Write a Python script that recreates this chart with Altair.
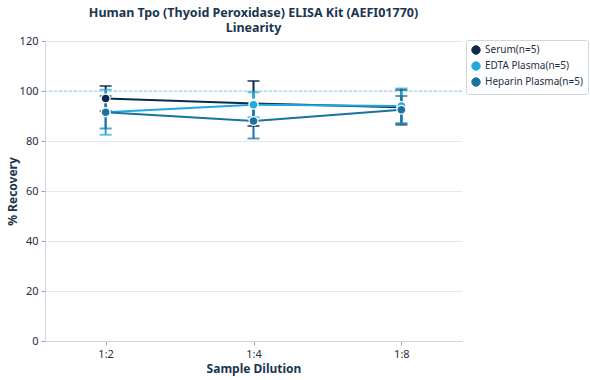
import altair as alt
import pandas as pd

# Recovery (%) per dilution with standard deviation, n=5 per matrix
dilutions = ["1:2", "1:4", "1:8"]
series = ["Serum(n=5)", "EDTA Plasma(n=5)", "Heparin Plasma(n=5)"]
serum_mean = [97.0, 95.0, 93.5]
serum_sd = [5.0, 9.0, 7.0]
edta_mean = [91.5, 94.5, 94.0]
edta_sd = [9.0, 5.0, 7.0]
heparin_mean = [91.5, 88.0, 92.5]
heparin_sd = [6.5, 7.0, 5.5]
colors = ["#0b2a48", "#22a9dc", "#17739f"]

rows = []
for name, means, sds in zip(series, [serum_mean, edta_mean, heparin_mean],
                            [serum_sd, edta_sd, heparin_sd]):
    for d, m, s in zip(dilutions, means, sds):
        rows.append({"series": name, "dilution": d, "mean": m, "sd": s,
                     "lo": m - s, "hi": m + s})
df = pd.DataFrame(rows)

x = alt.X("dilution:N", sort=dilutions, title="Sample Dilution",
          scale=alt.Scale(type="point", padding=0.41),
          axis=alt.Axis(labelAngle=0, grid=False))
color = alt.Color("series:N", sort=series,
                  scale=alt.Scale(domain=series, range=colors),
                  legend=alt.Legend(title=None, orient="none", legendX=421, legendY=-1,
                                    symbolType="circle", symbolSize=70,
                                    symbolOpacity=1,
                                    symbolStrokeColor="white", symbolStrokeWidth=1,
                                    labelFontSize=10, labelColor="#1d2f44",
                                    strokeColor="#cfd6dc", padding=5,
                                    cornerRadius=2, rowPadding=2, fillColor="white"))
yscale = alt.Scale(domain=[0, 120])

base = alt.Chart(df)

ref = alt.Chart(pd.DataFrame({"v": [100]})).mark_rule(
    color="#8fd2ea", strokeDash=[3, 2], strokeWidth=1
).encode(y=alt.Y("v:Q", scale=yscale))

err = base.mark_rule(strokeWidth=2).encode(
    x=x, y=alt.Y("lo:Q", scale=yscale), y2="hi:Q", color=color)
cap_lo = base.mark_tick(orient="horizontal", size=12, thickness=2).encode(
    x=x, y=alt.Y("lo:Q", scale=yscale), color=color)
cap_hi = base.mark_tick(orient="horizontal", size=12, thickness=2).encode(
    x=x, y=alt.Y("hi:Q", scale=yscale), color=color)

line = base.mark_line(strokeWidth=2).encode(
    x=x,
    y=alt.Y("mean:Q", scale=yscale, title="% Recovery",
            axis=alt.Axis(values=[0, 20, 40, 60, 80, 100, 120])),
    color=color)
pts = base.mark_point(filled=True, size=80, opacity=1, stroke="white",
                      strokeWidth=1.2).encode(
    x=x, y=alt.Y("mean:Q", scale=yscale), fill=color)

chart = alt.layer(ref, err, cap_lo, cap_hi, line, pts).properties(
    width=417, height=300,
    title=alt.TitleParams(
        ["Human Tpo (Thyoid Peroxidase) ELISA Kit (AEFI01770)", "Linearity"],
        fontSize=12.5, fontWeight="bold", color="#1a3550", font="Noto Sans",
        anchor="middle", offset=1, lineHeight=14.5),
    autosize=alt.AutoSizeParams(type="none"),
    padding={"left": 45, "top": 41, "right": 128, "bottom": 39},
).configure_view(stroke=None).configure_axis(
    labelFont="Noto Sans", titleFont="Noto Sans", labelFontSize=11,
    labelColor="#1d2f44", titleColor="#1a3550", titleFontSize=12,
    titleFontWeight="bold", domainColor="#cfd6dc", tickColor="#9aa5b0",
    gridColor="#e3e8ec", tickSize=4, labelPadding=3
).configure_axisY(titlePadding=0).configure_legend(
    labelFont="Noto Sans")

chart.save("out.html", embed_options={"renderer": "svg", "actions": False})
